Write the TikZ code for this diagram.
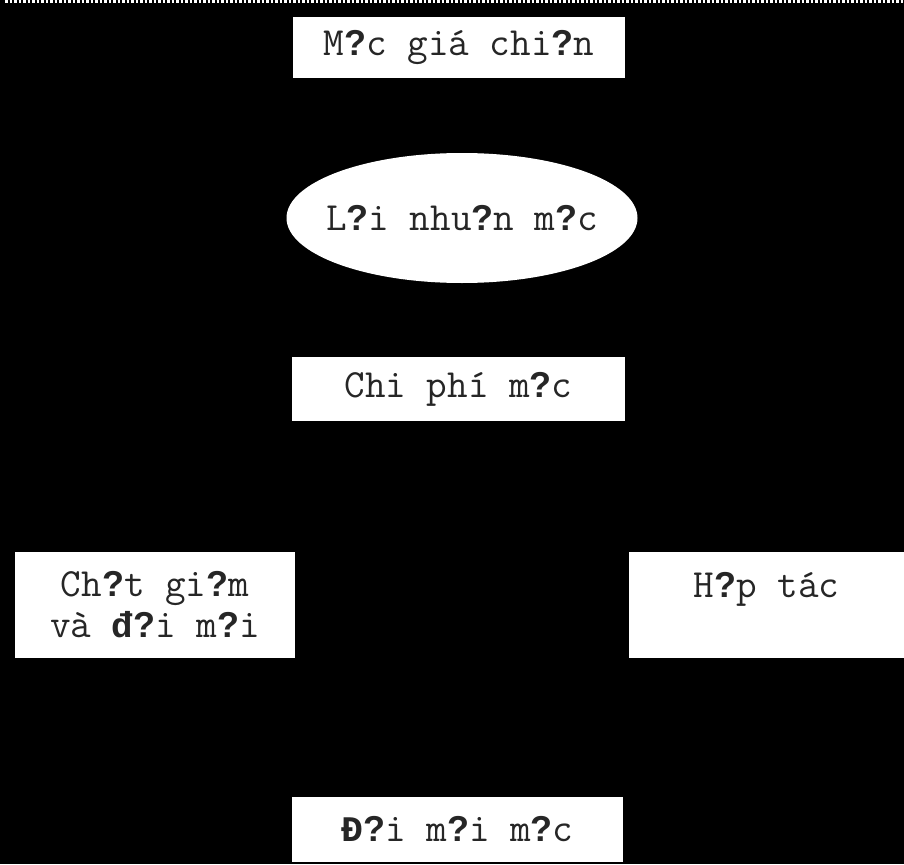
\documentclass[tikz,border=0pt]{standalone}
\usepackage{fontspec}
\newfontfamily\qfont{Liberation Sans}
\newfontfamily\heavymono{Liberation Mono}
\usetikzlibrary{shapes.geometric}
% bold substitute glyph used for the missing letters
\newcommand\qm{{\qfont\bfseries\fontsize{36}{41}\selectfont ?}}
\newcommand\bd[1]{{\heavymono\bfseries\fontsize{36}{41}\selectfont #1}}
\tikzset{
  label font/.style={font=\ttfamily\fontsize{40}{41}\selectfont, text=black!85},
  card/.style={rectangle, fill=white, draw=none, inner sep=0pt, align=center, label font},
  oval/.style={ellipse, fill=white, draw=none, inner xsep=-20pt, inner ysep=0pt, label font}
}
\begin{document}
\begin{tikzpicture}[x=1pt,y=-1pt]
  \useasboundingbox (0,0) rectangle (904,864);
  \fill[black] (0,0) rectangle (904,864);
  % hatched strip along the upper edge
  \draw[white, line width=3pt, dash pattern=on 2.5pt off 2pt] (5,2) -- (904,2);

  \node[card, minimum width=332, minimum height=61] (price) at (459,47.5) {M\qm c giá chi\qm n};
  \node[oval, minimum width=351, minimum height=130] (profit) at (462,218) {L\qm i nhu\qm n m\qm c};
  \node[card, minimum width=333, minimum height=64] (cost) at (458.5,389) {Chi phí m\qm c};
  \node[card, minimum width=280, minimum height=106] (quality) at (155,605) {Ch\qm t gi\qm m\\và \bd{đ}\qm i m\qm i};
  \node[card, minimum width=275, minimum height=106] (coop) at (766.5,605) {H\qm p tác\\\mbox{}};
  \node[card, minimum width=331, minimum height=65] (innov) at (457.5,829.5) {\bd{Đ}\qm i m\qm i m\qm c};
\end{tikzpicture}
\end{document}
